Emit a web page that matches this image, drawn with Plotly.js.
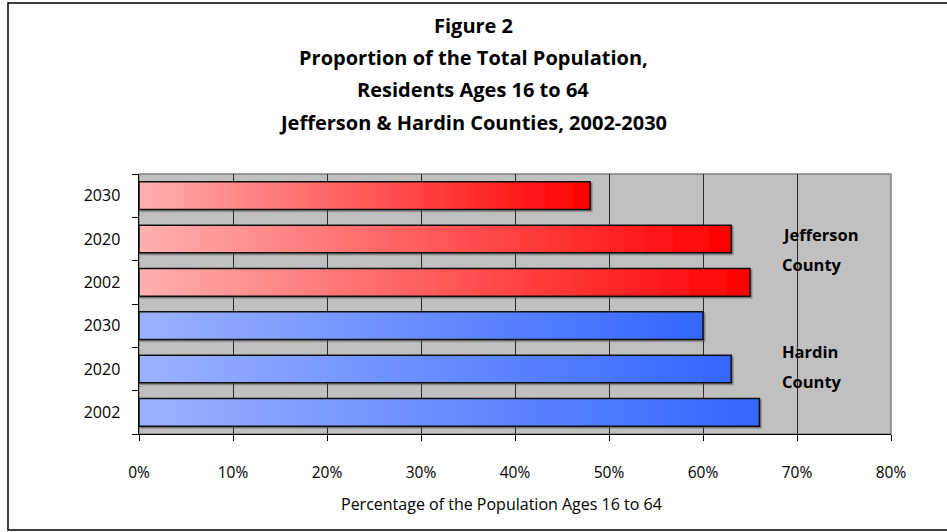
<!DOCTYPE html>
<html>
<head>
<meta charset="utf-8">
<script src="https://cdn.plot.ly/plotly-3.0.1.min.js"></script>
<style>
  html, body { margin: 0; padding: 0; background: #ffffff; }
  #chart { width: 947px; height: 532px; }
</style>
</head>
<body>
<div id="chart"></div>
<script>
// Share of residents aged 16 to 64, by county and year
const years = ['2002', '2020', '2030'];
const jeffersonShare = [0.65, 0.63, 0.48];
const hardinShare = [0.66, 0.63, 0.60];

const titleLines = [
  'Figure 2',
  'Proportion of the Total Population,',
  'Residents Ages 16 to 64',
  'Jefferson &amp; Hardin Counties, 2002-2030'
];
const xAxisTitle = 'Percentage of the Population Ages 16 to 64';
const countyLabels = ['Jefferson', 'County', 'Hardin', 'County'];

// left -> right fill colours for each county's bars
const jeffersonGradient = ['#ffb0b0', '#ff0000'];
const hardinGradient = ['#9cb2ff', '#3366ff'];

const FONT = '"Open Sans", Lato, "DejaVu Sans", sans-serif';

// unique category keys so the repeated year labels stay separate rows
const hardinRows = years.map(y => 'Hardin ' + y);
const jeffersonRows = years.map(y => 'Jefferson ' + y);
const rowOrder = hardinRows.concat(jeffersonRows);
const rowText = years.concat(years);

const barStyle = (color) => ({
  color: color,
  line: { color: '#111111', width: 1.5 }
});

const traces = [
  {
    type: 'bar', orientation: 'h', name: 'Hardin County',
    x: hardinShare, y: hardinRows, width: 0.64,
    marker: barStyle(hardinGradient[1]), hoverinfo: 'x+y'
  },
  {
    type: 'bar', orientation: 'h', name: 'Jefferson County',
    x: jeffersonShare, y: jeffersonRows, width: 0.64,
    marker: barStyle(jeffersonGradient[1]), hoverinfo: 'x+y'
  }
];

// plot area: 139..891 px across, 174..434 px down
const plotTopPx = 174, plotHeightPx = 260, plotLeftPx = 139, plotWidthPx = 752;
const paperY = (px) => (plotTopPx + plotHeightPx - px) / plotHeightPx;
const paperX = (px) => (px - plotLeftPx) / plotWidthPx;

const titleRowsPx = [25, 57, 89, 122];
const annotations = titleLines.map((t, i) => ({
  text: '<b>' + t + '</b>',
  xref: 'paper', yref: 'paper',
  x: paperX(473), y: paperY(titleRowsPx[i]),
  xanchor: 'center', yanchor: 'middle',
  showarrow: false,
  font: { family: FONT, size: 20, color: '#000000' }
}));

const countyRowsPx = [234, 264, 351, 381];
countyLabels.forEach((t, i) => {
  annotations.push({
    text: '<b>' + t + '</b>',
    xref: 'paper', yref: 'paper',
    x: paperX(780), y: paperY(countyRowsPx[i]),
    xanchor: 'left', yanchor: 'middle',
    showarrow: false,
    font: { family: FONT, size: 16.5, color: '#000000' }
  });
});

// x-axis caption below the tick labels
annotations.push({
  text: xAxisTitle,
  xref: 'paper', yref: 'paper',
  x: paperX(501), y: paperY(504),
  xanchor: 'center', yanchor: 'middle',
  showarrow: false,
  font: { family: FONT, size: 16, color: '#000000' }
});

const layout = {
  width: 947, height: 532,
  margin: { l: 139, r: 56, t: 174, b: 98, pad: 0 },
  paper_bgcolor: '#ffffff',
  plot_bgcolor: '#c0c0c0',
  showlegend: false,
  barmode: 'overlay',
  font: { family: FONT, size: 15, color: '#000000' },
  xaxis: {
    range: [0, 0.8], dtick: 0.1, tick0: 0,
    tickformat: '.0%',
    showgrid: true, gridcolor: '#2a2a2a', gridwidth: 1,
    zeroline: false,
    showline: true, linecolor: '#000000', linewidth: 1,
    ticks: 'outside', ticklen: 6, tickcolor: '#000000', tickwidth: 1,
    ticklabelstandoff: 18,
    tickfont: { family: FONT, size: 15.5, color: '#000000' },
    fixedrange: true
  },
  yaxis: {
    type: 'category',
    categoryorder: 'array', categoryarray: rowOrder,
    tickvals: rowOrder, ticktext: rowText,
    tickson: 'boundaries',
    showgrid: false, zeroline: false,
    showline: true, linecolor: '#000000', linewidth: 1.5,
    ticks: 'outside', ticklen: 6, tickcolor: '#000000', tickwidth: 1,
    ticklabelstandoff: 14,
    tickfont: { family: FONT, size: 16, color: '#000000' },
    fixedrange: true
  },
  shapes: [
    // gray frame along the top and right of the plot area
    { type: 'rect', xref: 'paper', yref: 'paper', x0: 0, x1: 1, y0: 0, y1: 1,
      line: { color: '#808080', width: 1.5 }, layer: 'below' },
    // outer border of the figure
    { type: 'rect', xref: 'paper', yref: 'paper',
      x0: paperX(8), x1: paperX(960), y0: paperY(530), y1: paperY(3),
      line: { color: '#000000', width: 1.5 }, layer: 'above' }
  ],
  annotations: annotations
};

Plotly.newPlot('chart', traces, layout, { displayModeBar: false, staticPlot: true }).then((gd) => {
  // horizontal gradient fills and a soft drop shadow for the bars
  const svgNS = 'http://www.w3.org/2000/svg';
  const svg = gd.querySelector('svg.main-svg');
  let defs = svg.querySelector('defs');
  if (!defs) { defs = document.createElementNS(svgNS, 'defs'); svg.insertBefore(defs, svg.firstChild); }

  const makeGradient = (id, stops) => {
    const g = document.createElementNS(svgNS, 'linearGradient');
    g.setAttribute('id', id);
    g.setAttribute('x1', '0'); g.setAttribute('y1', '0');
    g.setAttribute('x2', '1'); g.setAttribute('y2', '0');
    stops.forEach((c, i) => {
      const s = document.createElementNS(svgNS, 'stop');
      s.setAttribute('offset', String(i / (stops.length - 1)));
      s.setAttribute('stop-color', c);
      g.appendChild(s);
    });
    defs.appendChild(g);
  };
  makeGradient('fill-hardin', hardinGradient);
  makeGradient('fill-jefferson', jeffersonGradient);

  const shadow = document.createElementNS(svgNS, 'filter');
  shadow.setAttribute('id', 'bar-shadow');
  shadow.setAttribute('x', '-5%'); shadow.setAttribute('y', '-20%');
  shadow.setAttribute('width', '115%'); shadow.setAttribute('height', '150%');
  const drop = document.createElementNS(svgNS, 'feDropShadow');
  drop.setAttribute('dx', '1.5'); drop.setAttribute('dy', '1.5');
  drop.setAttribute('stdDeviation', '0.6');
  drop.setAttribute('flood-color', '#404040');
  drop.setAttribute('flood-opacity', '0.55');
  shadow.appendChild(drop);
  defs.appendChild(shadow);

  const fills = ['url(#fill-hardin)', 'url(#fill-jefferson)'];
  gd.querySelectorAll('.barlayer .trace').forEach((tr, i) => {
    tr.querySelectorAll('path').forEach((p) => {
      p.style.fill = fills[i];
      p.setAttribute('filter', 'url(#bar-shadow)');
    });
  });
});
</script>
</body>
</html>
